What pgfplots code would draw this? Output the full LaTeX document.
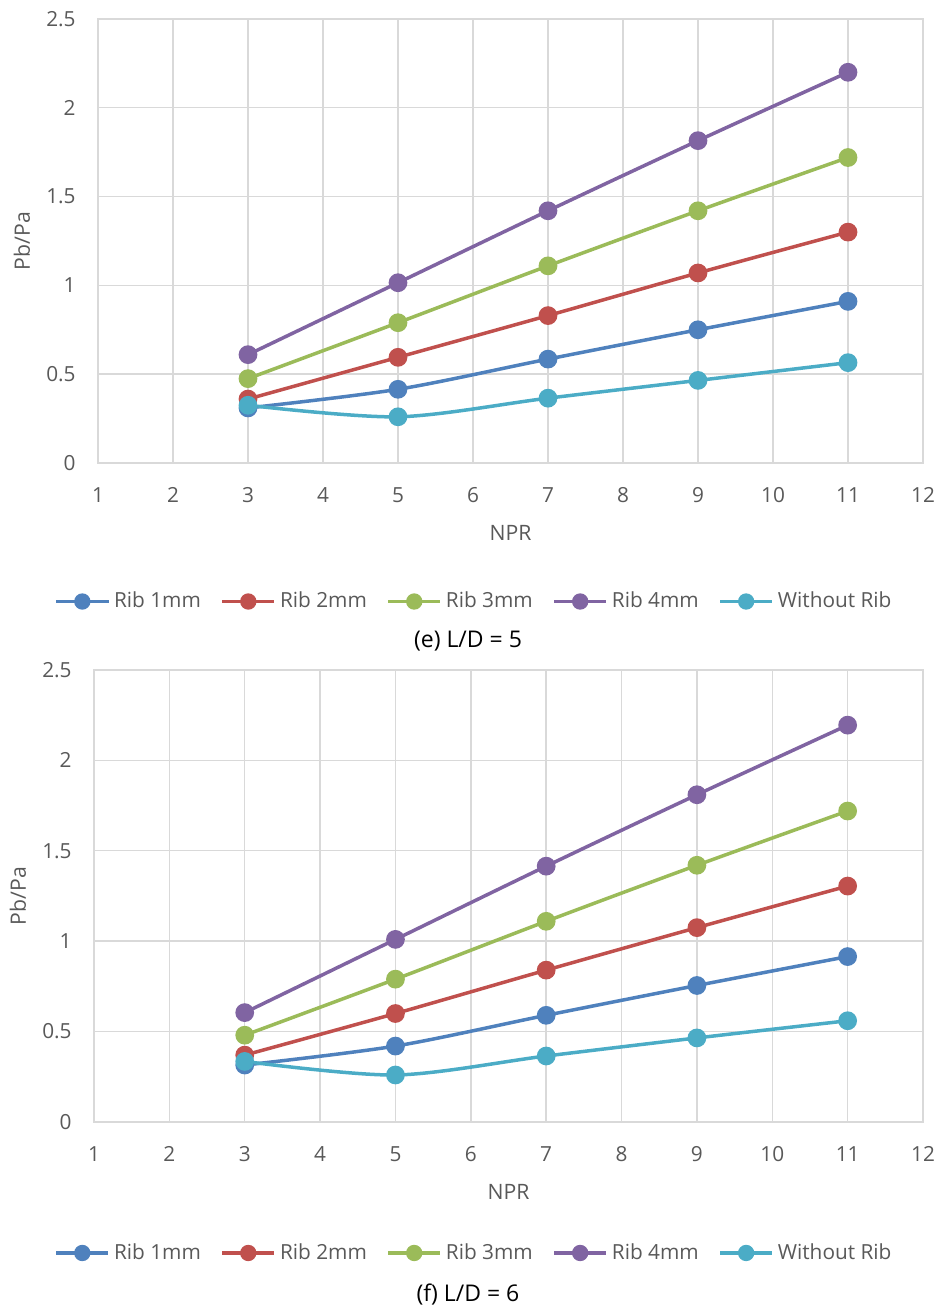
\documentclass[border=0pt]{standalone}
\usepackage{pgfplots}
\pgfplotsset{compat=1.18}
\usepackage{fontspec}
\setmainfont{Open Sans}
\definecolor{cA}{HTML}{4F81BD}
\definecolor{cB}{HTML}{C0504D}
\definecolor{cC}{HTML}{9BBB59}
\definecolor{cD}{HTML}{8064A2}
\definecolor{cE}{HTML}{4BACC6}
\definecolor{gridc}{HTML}{D9D9D9}
\definecolor{txt}{HTML}{595959}
\pgfplotsset{
  mychart/.style={
    scale only axis,
    xmin=1, xmax=12, ymin=0, ymax=2.5,
    xtick={1,2,...,12}, ytick={0,0.5,1,1.5,2,2.5},
    grid=major,
    major grid style={gridc, line width=0.7pt},
    axis line style={gridc, line width=0.9pt},
    major tick length=0pt,
    /pgf/number format/assume math mode=true,
    tick label style={font=\fontsize{10.4}{12}\selectfont, text=txt},
    yticklabel style={anchor=east, inner sep=0pt, xshift=-11pt},
    xticklabel style={anchor=north, inner sep=0pt, yshift=-12pt},
    label style={font=\fontsize{10.6}{12}\selectfont, text=txt},
    xlabel={NPR}, ylabel={Pb/Pa},
    legend columns=5,
    legend style={draw=none, fill=none, inner sep=0pt, anchor=center,
      font=\fontsize{10.4}{12}\selectfont, text=txt,
      nodes={inner xsep=2pt, inner ysep=1pt},
      /tikz/every even column/.append style={column sep=7.8pt}},
    legend image code/.code={\draw[mark repeat=2,mark phase=2,##1,mark size=3.2pt]
      plot coordinates {(0pt,0pt) (13pt,0pt) (26pt,0pt)};},
    every axis plot/.append style={smooth, line width=1.75pt, mark=*, mark size=3.8pt},
  },
  sA/.style={color=cA, mark options={fill=cA, draw=cA}},
  sB/.style={color=cB, mark options={fill=cB, draw=cB}},
  sC/.style={color=cC, mark options={fill=cC, draw=cC}},
  sD/.style={color=cD, mark options={fill=cD, draw=cD}},
  sE/.style={color=cE, mark options={fill=cE, draw=cE}},
}
\begin{document}
\begin{tikzpicture}
\path[use as bounding box] (0,0) rectangle (469pt,653.5pt);
% ---------- (e) L/D = 5 ----------
\begin{axis}[mychart, at={(49pt,422pt)}, anchor=south west,
  width=412.5pt, height=222pt,
  xlabel style={at={(axis description cs:0.5,-0.1577)}, anchor=center},
  ylabel style={at={(axis description cs:-0.0921,0.5)}, anchor=center},
  legend style={at={(axis description cs:0.457,-0.312)}}]
\addplot[sA] coordinates {(3,0.31) (5,0.415) (7,0.585) (9,0.75) (11,0.91)};
\addlegendentry{Rib 1mm}
\addplot[sB] coordinates {(3,0.36) (5,0.595) (7,0.83) (9,1.07) (11,1.30)};
\addlegendentry{Rib 2mm}
\addplot[sC] coordinates {(3,0.475) (5,0.79) (7,1.11) (9,1.42) (11,1.72)};
\addlegendentry{Rib 3mm}
\addplot[sD] coordinates {(3,0.61) (5,1.015) (7,1.42) (9,1.815) (11,2.20)};
\addlegendentry{Rib 4mm}
\addplot[sE] coordinates {(3,0.325) (5,0.26) (7,0.365) (9,0.465) (11,0.565)};
\addlegendentry{Without Rib}
\end{axis}
\node[font=\fontsize{11.5}{13}\selectfont, text=black] at (234pt,332.8pt) {(e) L/D = 5};
% ---------- (f) L/D = 6 ----------
\begin{axis}[mychart, at={(47pt,92.5pt)}, anchor=south west,
  width=414.5pt, height=226pt,
  xlabel style={at={(axis description cs:0.5,-0.1549)}, anchor=center},
  ylabel style={at={(axis description cs:-0.0917,0.5)}, anchor=center},
  legend style={at={(axis description cs:0.4596,-0.2898)}}]
\addplot[sA] coordinates {(3,0.315) (5,0.42) (7,0.59) (9,0.755) (11,0.915)};
\addlegendentry{Rib 1mm}
\addplot[sB] coordinates {(3,0.37) (5,0.60) (7,0.84) (9,1.075) (11,1.305)};
\addlegendentry{Rib 2mm}
\addplot[sC] coordinates {(3,0.48) (5,0.79) (7,1.11) (9,1.42) (11,1.72)};
\addlegendentry{Rib 3mm}
\addplot[sD] coordinates {(3,0.605) (5,1.01) (7,1.415) (9,1.81) (11,2.195)};
\addlegendentry{Rib 4mm}
\addplot[sE] coordinates {(3,0.335) (5,0.26) (7,0.365) (9,0.465) (11,0.56)};
\addlegendentry{Without Rib}
\end{axis}
\node[font=\fontsize{11.5}{13}\selectfont, text=black] at (234pt,6pt) {(f) L/D = 6};
\end{tikzpicture}
\end{document}
